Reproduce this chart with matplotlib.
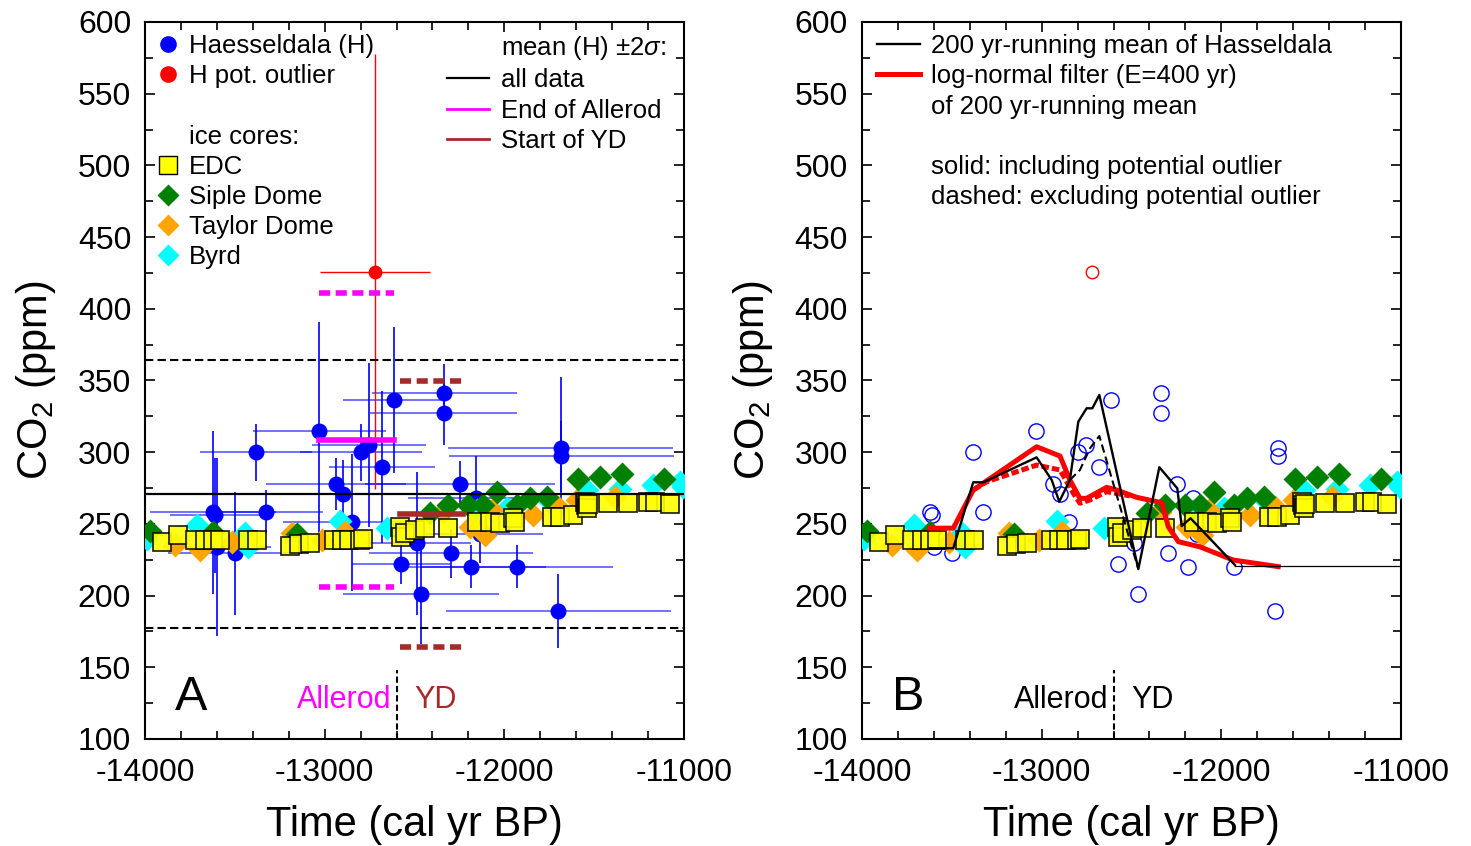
import matplotlib.pyplot as plt
from matplotlib.lines import Line2D
from matplotlib.ticker import MultipleLocator

plt.rcParams['font.family'] = ['Liberation Sans', 'DejaVu Sans']
plt.rcParams['mathtext.fontset'] = 'custom'
plt.rcParams['mathtext.rm'] = 'Liberation Sans'
plt.rcParams['mathtext.it'] = 'Liberation Sans:italic'
plt.rcParams['axes.unicode_minus'] = False

# Haesseldala CO2 (time, value, time error, CO2 error)
h_time = [-13622, -13610, -13600, -13499, -13384, -13325, -13030, -12939, -12900, -12850,
          -12798, -12753, -12681, -12613, -12577, -12488, -12464, -12338, -12334, -12297,
          -12247, -12186, -12158, -12136, -11928, -11700, -11685, -11683]
h_co2 = [258, 256, 234, 229.5, 300, 258.5, 315, 278, 270.6, 251,
         300, 305, 289.5, 336.4, 222, 236.5, 201, 327, 341.5, 229.5,
         278, 220, 268, 243, 220, 189.3, 302.7, 297]
h_terr = [350, 250, 300, 375, 311, 315, 371, 390, 350, 380,
          340, 317, 296, 284, 273, 300, 432, 410, 402, 456,
          530, 420, 380, 350, 535, 625, 626, 626]
h_cerr = [57, 40, 62, 43, 20, 15, 76, 18, 24, 48,
          20, 57, 53, 51, 14, 50, 35, 22, 20, 17,
          16, 15, 29, 20, 15, 26, 50, 25]

out_time = [-12720]
out_co2 = [426]
out_terr = [306]
out_cerr = [152]

# mean +- 2 sigma
mean_all, sd2_all = 270.7, 93.5
allerod_range = [-13030, -12613]
mean_allerod, sd2_allerod = 308.5, 102.3
yd_range = [-12580, -12230]
mean_yd, sd2_yd = 256.8, 93.0
boundary = -12600

# ice cores
edc_time = [-13904, -13815, -13722, -13666, -13620, -13583, -13429, -13378, -13193, -13141,
            -13082, -12947, -12902, -12865, -12804, -12785, -12581, -12575, -12553, -12497,
            -12442, -12312, -12154, -12080, -12024, -11950, -11941, -11737, -11691, -11617,
            -11550, -11545, -11540, -11535, -11422, -11311, -11199, -11162, -11078]
edc_co2 = [237.6, 242.3, 239, 239, 238.5, 239, 239, 239, 234.6, 235.9,
           237, 238.5, 238.5, 238.5, 238.5, 239.5, 248, 241, 243.4, 245.7,
           247, 247, 251.5, 251.5, 250.4, 254, 251.5, 254.6, 254.6, 256.2,
           265.5, 263, 261, 264, 264.8, 264.8, 265.5, 265.5, 263.9]
siple_time = [-13972, -13620, -13156, -12414, -12312, -12201, -12117, -12043, -11932, -11858,
              -11765, -11589, -11468, -11347, -11112]
siple_co2 = [245, 244, 243, 257.4, 263.2, 263.2, 263.2, 272.5, 263.2, 267.8,
             269, 281.3, 282.5, 284.8, 281.3]
taylor_time = [-13833, -13694, -13514, -13184, -13017, -12887, -12340, -12191, -12108, -12071,
               -11839, -11700, -11598, -11385]
taylor_co2 = [235.3, 232, 237.6, 243.4, 239, 244.6, 258.5, 248, 242.3, 259.7,
              256.2, 262, 266.7, 269]
byrd_time = [-13991, -13712, -13443, -13425, -12915, -12655, -12154, -11987, -11746, -11542,
             -11357, -11171, -11022, -11005]
byrd_co2 = [239.3, 249.2, 243.4, 234, 252.3, 247, 259.7, 260.9, 265.5, 273.7,
            274.1, 277, 279.4, 276]

# 200 yr running mean (with / without outlier)
rm_time = [-13622, -13492, -13381, -13325, -13028, -12944, -12902, -12843, -12796, -12750,
           -12718, -12679, -12462, -12345, -12245, -12221, -12171, -11924]
rm_co2 = [233, 233, 279, 279, 296.4, 280.6, 265.5, 280.6, 321.3, 330.6,
          330.6, 339.9, 218.5, 289.5, 274.8, 248.5, 253.9, 221.3]
rm_tail_time = [-11924, -11000]
rm_tail_co2 = [220.6, 220.6]
rmx_time = [-12843, -12787, -12731, -12679, -12462]
rmx_co2 = [280.6, 287.6, 302.7, 311.3, 218.5]

# log-normal filter (with / without outlier)
ln_time = [-13622, -13492, -13381, -13028, -12898, -12843, -12787, -12750, -12638, -12582,
           -12471, -12332, -12295, -12239, -12119, -11934, -11683]
ln_co2 = [247, 247, 273.6, 303.8, 297.3, 280.6, 267.8, 267.8, 275.5, 273.6,
          268.5, 264.8, 248, 237.6, 234, 224.8, 220.2]
lnx_time = [-13381, -13306, -13028, -12898, -12824, -12787, -12731, -12638, -12509]
lnx_co2 = [273.6, 279.4, 291, 287.6, 271.4, 264.4, 266.7, 272.5, 269.5]

MAGENTA = '#ff00ff'
BROWN = '#a52a2a'
FS_TICK = 23
FS_LAB = 30
FS_LEG = 18.5
LSPACE = 0.24


def ice_cores(ax):
    ax.plot(byrd_time, byrd_co2, 'D', color='cyan', ms=12.5, mec='none', zorder=4)
    ax.plot(taylor_time, taylor_co2, 'D', color='orange', ms=12.5, mec='none', zorder=4)
    ax.plot(siple_time, siple_co2, 'D', color='green', ms=12.5, mec='none', zorder=4)
    ax.plot(edc_time, edc_co2, 's', color='yellow', ms=13.5, mec='black', mew=1.2,
            alpha=0.9, zorder=5)


def style(ax):
    ax.set_xlim(-14000, -11000)
    ax.set_ylim(100, 600)
    ax.xaxis.set_major_locator(MultipleLocator(1000))
    ax.xaxis.set_minor_locator(MultipleLocator(200))
    ax.yaxis.set_major_locator(MultipleLocator(50))
    ax.yaxis.set_minor_locator(MultipleLocator(25))
    ax.tick_params(which='both', direction='in', top=True, right=True, width=1.2)
    ax.tick_params(which='major', length=7, labelsize=FS_TICK)
    ax.tick_params(which='minor', length=6)
    ax.tick_params(axis='x', which='major', pad=14)
    ax.tick_params(axis='y', which='major', pad=10)
    for s in ax.spines.values():
        s.set_linewidth(1.5)
    ax.set_xlabel('Time (cal yr BP)', fontsize=FS_LAB, labelpad=12)
    ax.set_ylabel('CO$_2$ (ppm)', fontsize=FS_LAB, labelpad=14)


fig = plt.figure(figsize=(14.71, 8.46), dpi=100)
axA = fig.add_axes([0.0986, 0.1265, 0.3664, 0.8475])
axB = fig.add_axes([0.586, 0.1265, 0.3664, 0.8475])

# ---------------- panel A ----------------
axA.errorbar(h_time, h_co2, xerr=h_terr, fmt='none', ecolor='blue', elinewidth=1.3,
             alpha=0.6, capsize=0, zorder=2)
axA.errorbar(h_time, h_co2, yerr=h_cerr, fmt='o', color='blue', ms=11.5, mec='none',
             ecolor='blue', elinewidth=1.2, capsize=0, zorder=3)
axA.errorbar(out_time, out_co2, xerr=out_terr, yerr=out_cerr, fmt='o', color='red', ms=10,
             mec='none', ecolor='red', elinewidth=1.0, capsize=0, zorder=3)
ice_cores(axA)

axA.axhline(mean_all, color='black', lw=1.6, zorder=6)
axA.axhline(mean_all + sd2_all, color='black', lw=1.5, ls=(0, (4, 2)), zorder=6)
axA.axhline(mean_all - sd2_all, color='black', lw=1.5, ls=(0, (4, 2)), zorder=6)
axA.plot(allerod_range, [mean_allerod] * 2, color=MAGENTA, lw=4, zorder=6)
axA.plot(allerod_range, [mean_allerod + sd2_allerod] * 2, color=MAGENTA, lw=4,
         ls=(0, (2, 1)), zorder=6)
axA.plot(allerod_range, [mean_allerod - sd2_allerod] * 2, color=MAGENTA, lw=4,
         ls=(0, (2, 1)), zorder=6)
axA.plot(yd_range, [mean_yd] * 2, color=BROWN, lw=4, zorder=6)
axA.plot(yd_range, [mean_yd + sd2_yd] * 2, color=BROWN, lw=4, ls=(0, (2, 1)), zorder=6)
axA.plot(yd_range, [mean_yd - sd2_yd] * 2, color=BROWN, lw=4, ls=(0, (2, 1)), zorder=6)

for ax, c1, c2 in [(axA, MAGENTA, BROWN), (axB, 'black', 'black')]:
    ax.plot([boundary, boundary], [100, 148], color='black', lw=1.5, ls=(0, (3, 1.5)))
    ax.text(boundary - 30, 127, 'Allerod', color=c1, fontsize=22, ha='right', va='center')
    ax.text(boundary + 100, 127, 'YD', color=c2, fontsize=22, ha='left', va='center')

axA.text(0.055, 0.04, 'A', transform=axA.transAxes, fontsize=35, ha='left', va='baseline')
axB.text(0.055, 0.04, 'B', transform=axB.transAxes, fontsize=35, ha='left', va='baseline')

blank = Line2D([], [], ls='none', marker='none')
hA = [Line2D([], [], ls='none', marker='o', color='blue', ms=12, mec='none'),
      Line2D([], [], ls='none', marker='o', color='red', ms=12, mec='none'),
      blank, blank,
      Line2D([], [], ls='none', marker='s', color='yellow', ms=12.5, mec='black'),
      Line2D([], [], ls='none', marker='D', color='green', ms=11, mec='none'),
      Line2D([], [], ls='none', marker='D', color='orange', ms=11, mec='none'),
      Line2D([], [], ls='none', marker='D', color='cyan', ms=11, mec='none')]
lA = ['Haesseldala (H)', 'H pot. outlier', ' ', 'ice cores:', 'EDC', 'Siple Dome',
      'Taylor Dome', 'Byrd']
leg1 = axA.legend(hA, lA, loc='upper left', bbox_to_anchor=(-0.012, 1.008), frameon=False,
                  fontsize=FS_LEG, handlelength=0.9, handletextpad=0.35, labelspacing=LSPACE,
                  borderaxespad=0.3)
axA.add_artist(leg1)
hA2 = [blank,
       Line2D([], [], color='black', lw=1.6),
       Line2D([], [], color=MAGENTA, lw=2),
       Line2D([], [], color=BROWN, lw=2)]
lA2 = ['mean (H) $\\pm2\\sigma$:', 'all data', 'End of Allerod', 'Start of YD']
axA.legend(hA2, lA2, loc='upper right', bbox_to_anchor=(1.0, 1.008), frameon=False,
           fontsize=FS_LEG, handlelength=1.65, handletextpad=0.45, labelspacing=LSPACE,
           borderaxespad=0.3)
style(axA)

# ---------------- panel B ----------------
axB.plot(h_time, h_co2, 'o', mfc='none', mec='blue', ms=11, mew=1.0, zorder=3)
axB.plot(out_time, out_co2, 'o', mfc='none', mec='red', ms=9, mew=1.0, zorder=3)
ice_cores(axB)
axB.plot(ln_time, ln_co2, color='red', lw=3.6, zorder=6)
axB.plot(lnx_time, lnx_co2, color='red', lw=3.6, ls=(0, (1.5, 0.6)), zorder=6)
axB.plot(rm_time, rm_co2, color='black', lw=1.7, zorder=7)
axB.plot(rmx_time, rmx_co2, color='black', lw=1.5, ls=(0, (4, 2)), zorder=7)
axB.plot(rm_tail_time, rm_tail_co2, color='black', lw=0.9, zorder=7)

hB = [Line2D([], [], color='black', lw=1.7),
      Line2D([], [], color='red', lw=3.6),
      blank, blank, blank, blank]
lB = ['200 yr-running mean of Hasseldala', 'log-normal filter (E=400 yr)',
      'of 200 yr-running mean', ' ', 'solid: including potential outlier',
      'dashed: excluding potential outlier']
axB.legend(hB, lB, loc='upper left', bbox_to_anchor=(-0.005, 1.008), frameon=False,
           fontsize=FS_LEG, handlelength=1.65, handletextpad=0.45, labelspacing=LSPACE,
           borderaxespad=0.3)
style(axB)

fig.savefig('out.png', dpi=100)
